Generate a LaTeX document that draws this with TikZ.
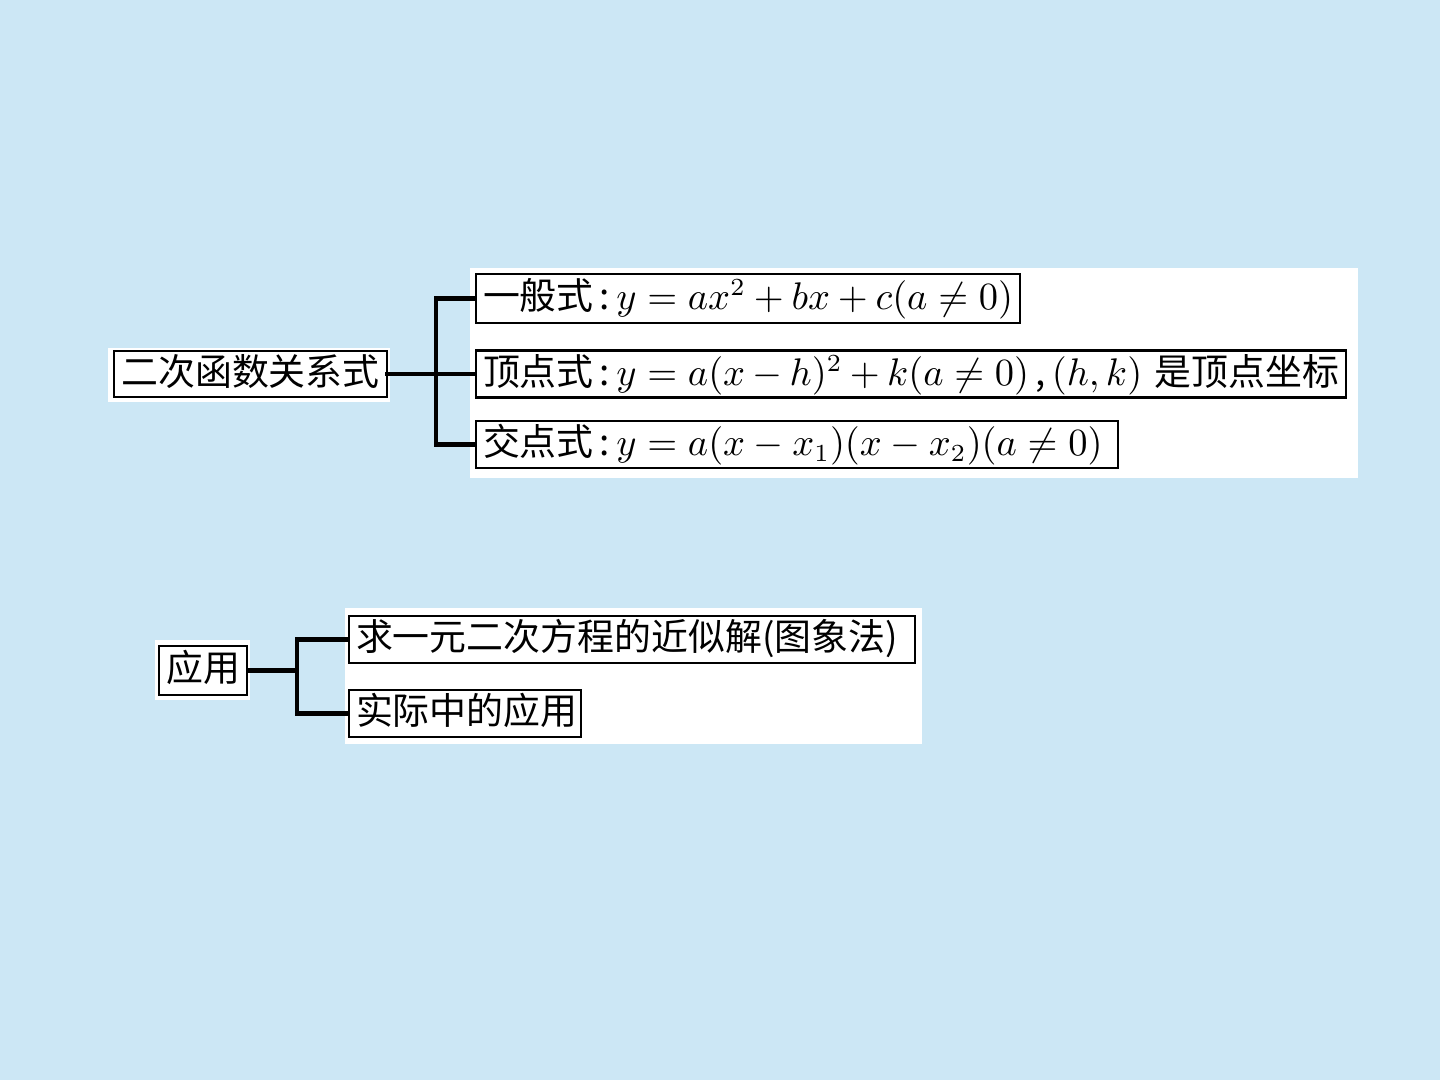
\documentclass[tikz,border=0pt]{standalone}
\usepackage{amsmath}
\usepackage{amssymb}
\usepackage{fontspec}
\newfontfamily\cjk{Noto Sans CJK SC}
\usepackage{tikz}
\definecolor{bgblue}{RGB}{204,231,245}

\begin{document}
\begin{tikzpicture}[
    box/.style={draw=black, line width=0.6pt, fill=white, inner xsep=2pt, inner ysep=0pt,
                font=\cjk\fontsize{10.5}{12}\selectfont, text height=9pt, text depth=2.5pt},
    item/.style={box, anchor=west, align=left},
    panel/.style={fill=white, draw=none},
    link/.style={line width=1.3pt, line cap=rect}
]
    % Background and page size
    \fill[bgblue] (0,0) rectangle (14.4,10.8);
    \useasboundingbox (0,0) rectangle (14.4,10.8);

    % White panels behind the boxes
    \fill[panel] (1.08,6.78) rectangle (3.90,7.32);
    \fill[panel] (4.70,6.02) rectangle (13.58,8.12);
    \fill[panel] (1.55,3.80) rectangle (2.50,4.40);
    \fill[panel] (3.45,3.36) rectangle (9.22,4.72);

    % Quadratic function relations
    \node[box, minimum width=2.67cm, minimum height=0.46cm] (rel) at (2.505,7.06) {二次函数关系式};
    \node[item, text width=5.30cm, minimum height=0.49cm] (gen) at (4.75,7.815)
        {一般式\,:\,$y=ax^2+bx+c(a\neq 0)$};
    \node[item, text width=8.56cm, minimum height=0.47cm] (ver) at (4.75,7.06)
        {顶点式\,:\,$y=a(x-h)^2+k(a\neq 0)$\,,\,$(h,k)$\ 是顶点坐标};
    \node[item, text width=6.28cm, minimum height=0.47cm] (cross) at (4.75,6.355)
        {交点式\,:\,$y=a(x-x_1)(x-x_2)(a\neq 0)$};

    \coordinate (fork1) at (4.36,7.06);
    \draw[link] (rel.east) -- (fork1);
    \draw[link] (gen.west) -| (fork1);
    \draw[link] (ver.west) -- (fork1);
    \draw[link] (cross.west) -| (fork1);

    % Applications
    \node[box, minimum width=0.86cm, minimum height=0.49cm] (app) at (2.03,4.095) {应用};
    \node[item, text width=5.52cm, minimum height=0.47cm] (approx) at (3.48,4.405)
        {求一元二次方程的近似解(图象法)};
    \node[item, text width=2.18cm, minimum height=0.47cm] (real) at (3.48,3.665)
        {实际中的应用};

    \coordinate (fork2) at (2.97,4.095);
    \draw[link] (app.east) -- (fork2);
    \draw[link] (approx.west) -| (fork2);
    \draw[link] (real.west) -| (fork2);
\end{tikzpicture}
\end{document}
